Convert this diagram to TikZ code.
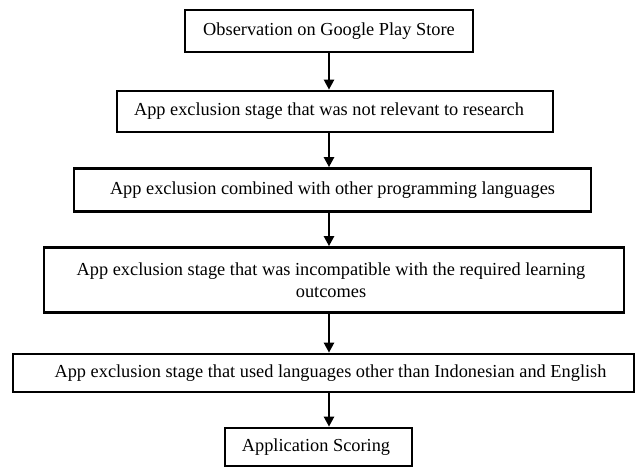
\documentclass[tikz,border=0pt]{standalone}
\usepackage{fontspec}
\setmainfont{Liberation Serif}
\usetikzlibrary{arrows.meta}
\begin{document}
\begin{tikzpicture}[x=0.6pt,y=-0.6pt,
  box/.style={draw=black, line width=1.6pt, fill=white, inner sep=0pt},
  txt/.style={inner sep=0pt, align=center, font=\fontsize{11}{13.5}\selectfont},
  arr/.style={line width=1.35pt, -{Triangle[length=6pt,width=6pt]}}]
\fill[white] (0,0) rectangle (637,468);
\useasboundingbox (0,0) rectangle (637,468);
% boxes
\node[box, minimum width=172.8pt, minimum height=25.2pt] (b1) at (329,31) {};
\node[box, minimum width=261.6pt, minimum height=24.6pt] (b2) at (335,111.5) {};
\node[box, minimum width=310.2pt, minimum height=25.8pt] (b3) at (332.5,190) {};
\node[box, minimum width=348pt, minimum height=39pt] (b4) at (334,280) {};
\node[box, minimum width=372.6pt, minimum height=22.8pt] (b5) at (323.5,373) {};
\node[box, minimum width=112.2pt, minimum height=22.8pt] (b6) at (318.5,447) {};
% texts
\node[txt] (t1) at (329,31) {Observation on Google Play Store};
\node[txt] (t2) at (329,111.5) {App exclusion stage that was not relevant to research};
\node[txt] (t3) at (332.5,190) {App exclusion combined with other programming languages};
\node[txt] (t4) at (331,280) {App exclusion stage that was incompatible with the required learning\\outcomes};
\node[txt] (t5) at (330.5,373) {App exclusion stage that used languages other than Indonesian and English};
\node[txt] (t6) at (316,447) {Application Scoring};
% connectors
\coordinate (ax) at (329,0);
\draw[arr] (b1.south -| ax) -- (b2.north -| ax);
\draw[arr] (b2.south -| ax) -- (b3.north -| ax);
\draw[arr] (b3.south -| ax) -- (b4.north -| ax);
\draw[arr] (b4.south -| ax) -- (b5.north -| ax);
\draw[arr] (b5.south -| ax) -- (b6.north -| ax);
\end{tikzpicture}
\end{document}
